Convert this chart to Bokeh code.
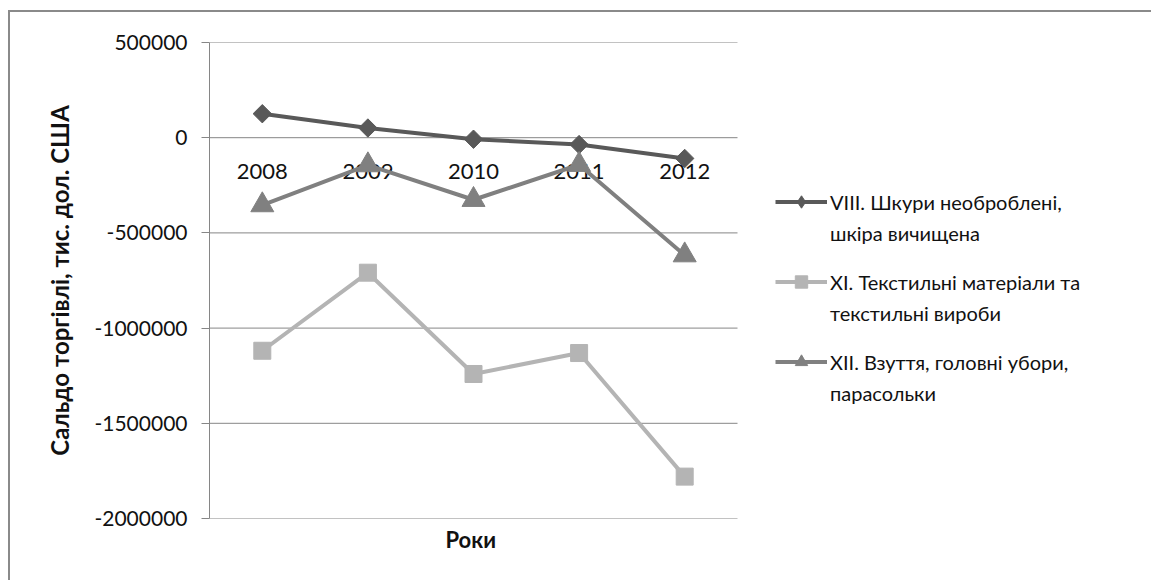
from bokeh.plotting import figure
from bokeh.models import (Legend, LegendItem, FixedTicker, CustomJSTickFormatter, Range1d,
                          ColumnDataSource, Title)
from bokeh.core.properties import value
from bokeh.embed import file_html
from bokeh.resources import INLINE

years = ["2008", "2009", "2010", "2011", "2012"]
viii = [126000, 51000, -8000, -36000, -109000]
xi = [-1119000, -709000, -1241000, -1131000, -1780000]
xii = [-354000, -144000, -326000, -142000, -617000]
series_names = [
    ["VIII. Шкури необроблені,", "шкіра вичищена"],
    ["XI. Текстильні матеріали та", "текстильні вироби"],
    ["XII. Взуття, головні убори,", "парасольки"],
]
y_ticks = [500000, 0, -500000, -1000000, -1500000, -2000000]
y_title = "Сальдо торгівлі, тис. дол. США"
x_title = "Роки"

FONT = "Lato"
TXT = "#111111"
GRID = "#868686"

# layout (pixels)
W, H = 1143, 570
LEFT, TOP, BOTTOM = 199, 30, 64
FRAME_W = W - LEFT
CAT_W = 528          # width of the category area inside the frame

n = len(years)
xs = list(range(n))
x_start = -0.5
x_stop = n - 0.5
x_end = x_start + n * FRAME_W / CAT_W
label_level = [0] * n

p = figure(
    x_range=Range1d(x_start, x_end),
    y_range=Range1d(y_ticks[-1], y_ticks[0]),
    width=W, height=H,
    output_backend="svg", toolbar_location=None,
    min_border_left=LEFT, min_border_right=0,
    min_border_top=TOP, min_border_bottom=BOTTOM,
)
p.margin = (10, 0, 0, 8)
p.styles = {"border-left": "2px solid #8a8a8a", "border-top": "2px solid #8a8a8a"}
p.outline_line_color = None
p.background_fill_color = "white"
p.border_fill_color = "white"

# y axis
p.yaxis.ticker = FixedTicker(ticks=y_ticks)
p.yaxis.formatter = CustomJSTickFormatter(code="return tick.toFixed(0);")
p.yaxis.major_tick_out = 8
p.yaxis.major_tick_in = 0
p.yaxis.minor_tick_line_color = None
p.yaxis.axis_line_color = GRID
p.yaxis.major_tick_line_color = GRID
p.yaxis.major_label_text_font = FONT
p.yaxis.major_label_text_font_size = "21px"
p.yaxis.major_label_text_color = TXT
p.yaxis.major_label_standoff = 14
p.yaxis.axis_label = y_title
p.yaxis.axis_label_text_font = FONT
p.yaxis.axis_label_text_font_size = "24px"
p.yaxis.axis_label_text_font_style = "bold"
p.yaxis.axis_label_text_color = TXT
p.yaxis.axis_label_standoff = 17

p.xaxis.visible = False
p.add_layout(Title(text=x_title, align="left", offset=236, text_font=FONT,
                   text_font_size="22px", text_font_style="bold", text_color=TXT,
                   standoff=10), "below")

p.xgrid.grid_line_color = None
p.ygrid.grid_line_color = None

# horizontal gridlines limited to the category area
p.segment(x0=[x_start] * len(y_ticks), x1=[x_stop] * len(y_ticks), y0=y_ticks, y1=y_ticks,
          line_color=GRID, line_width=1)

# category labels under the zero line
p.text(x=xs, y=label_level, text=years, y_offset=26,
       text_align="center", text_baseline="top",
       text_font=value(FONT), text_font_size="22px", text_color=TXT)

src = ColumnDataSource(dict(x=xs, viii=viii, xi=xi, xii=xii))

c1, c2, c3 = "#595959", "#b4b4b4", "#808080"

l1 = p.line("x", "viii", source=src, line_color=c1, line_width=4)
m1 = p.scatter("x", "viii", source=src, marker="square", angle=0.785398, size=13,
               fill_color=c1, line_color=c1)
l2 = p.line("x", "xi", source=src, line_color=c2, line_width=4)
m2 = p.scatter("x", "xi", source=src, marker="square", size=17,
               fill_color=c2, line_color=c2)
l3 = p.line("x", "xii", source=src, line_color=c3, line_width=4)
m3 = p.scatter("x", "xii", source=src, marker="triangle", size=23,
               fill_color=c3, line_color=c3)

# legend-only helpers
m1_leg = p.scatter("x", "viii", source=src, marker="diamond", size=16,
                   fill_color=c1, line_color=c1, visible=False)
blank = p.line("x", "viii", source=src, line_alpha=0)

leg_renderers = [[l1, m1_leg], [l2, m2], [l3, m3]]
leg_y = [270, 190, 110]
for names, rends, ly in zip(series_names, leg_renderers, leg_y):
    lg = Legend(
        items=[LegendItem(label=names[0], renderers=rends),
               LegendItem(label=names[1], renderers=[blank])],
        location=(566, ly),
        glyph_width=52, glyph_height=31,
        label_height=31,
        label_standoff=3,
        spacing=0,
        padding=0, margin=0,
        border_line_color=None,
        background_fill_alpha=0,
        label_text_font=FONT,
        label_text_font_size="20px",
        label_text_color=TXT,
    )
    p.add_layout(lg, "center")

open("out.html", "w").write(file_html(p, INLINE))
